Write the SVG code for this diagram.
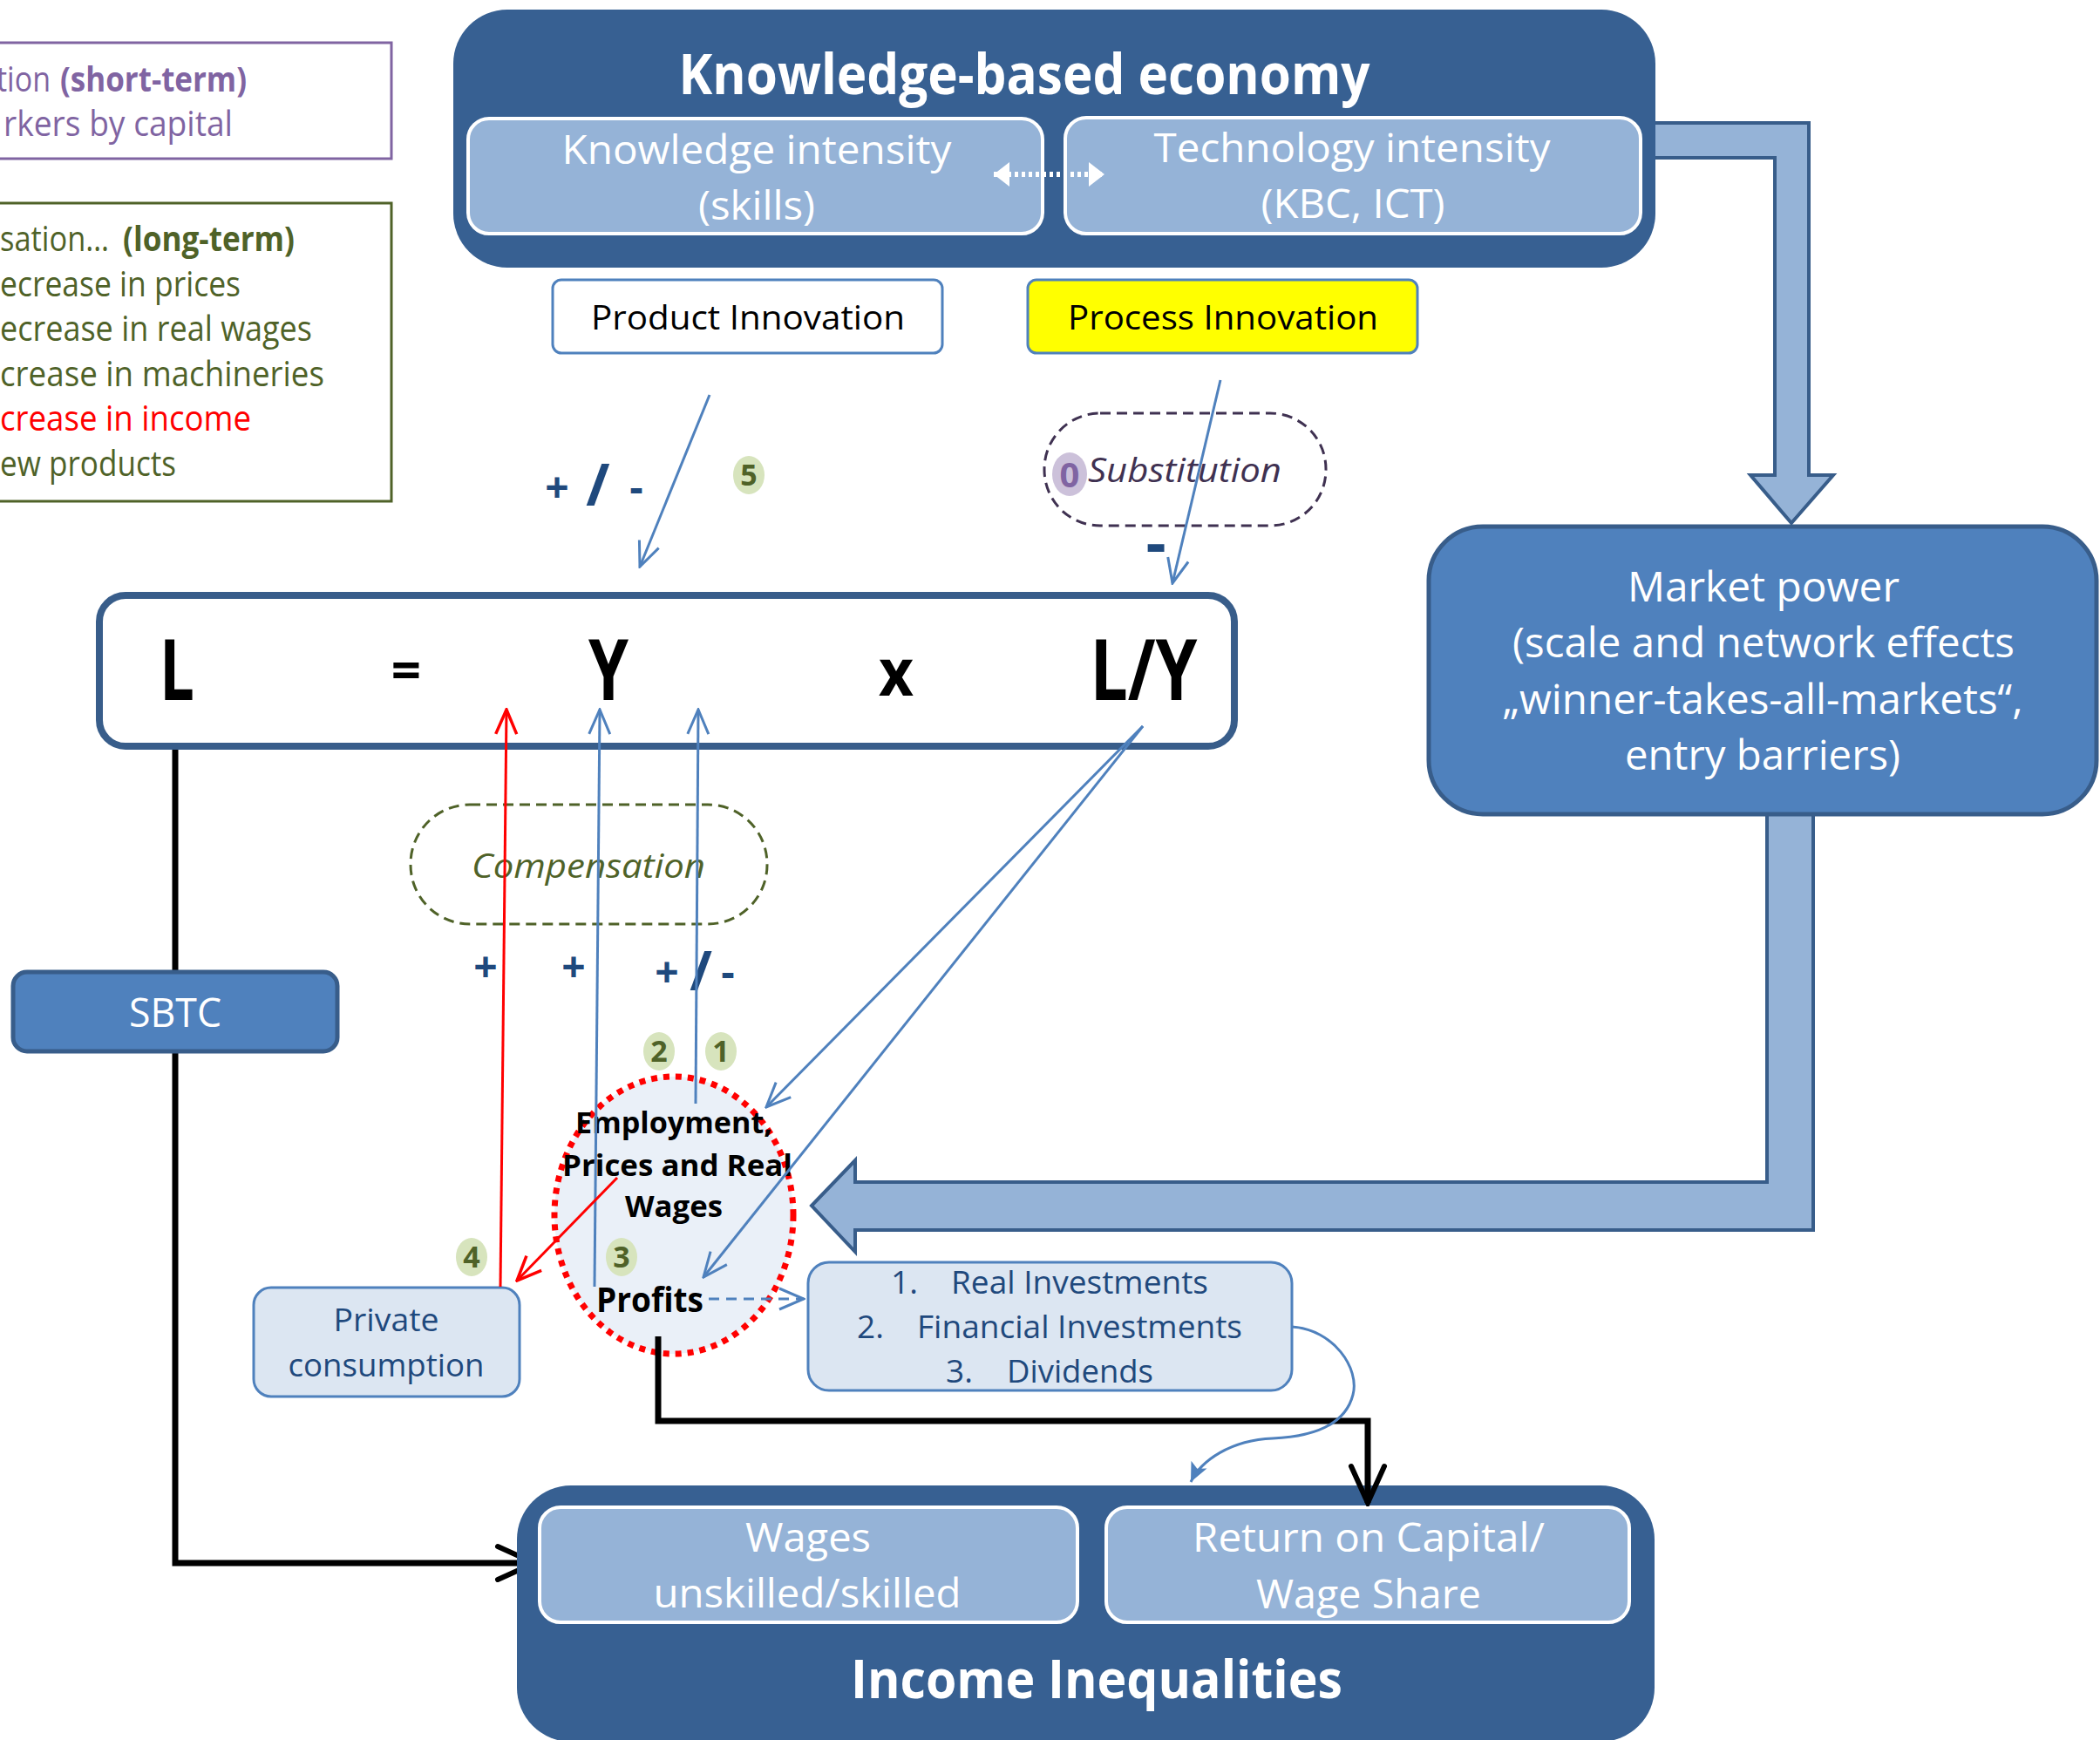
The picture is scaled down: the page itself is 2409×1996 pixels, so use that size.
<svg xmlns="http://www.w3.org/2000/svg" width="2409" height="1996" viewBox="0 0 2409 1996">
<style>
text{font-family:"Open Sans","Noto Sans","Liberation Sans",sans-serif;}
.w{fill:#fff}
.bd{font-weight:bold}
.it{font-style:italic}
.dk{fill:#1F497D}
.mid{text-anchor:middle}
.sign{fill:#1F497D;font-weight:bold;font-size:48px;text-anchor:middle}
.badge{fill:#D7E4BD}
.bt{fill:#4F6228;font-weight:bold;font-size:34px;text-anchor:middle}
.bl{stroke:#4F81BD;stroke-width:3;fill:none}
.rd{stroke:#FF0000;stroke-width:3;fill:none}
.blk{stroke:#000;stroke-width:7;fill:none;stroke-linejoin:miter}
.sub{fill:#95B3D7;stroke:#fff;stroke-width:4}
.lite{fill:#DCE6F2;stroke:#4F81BD;stroke-width:3}
.blockarrow{fill:#95B3D7;stroke:#385D8A;stroke-width:4;stroke-linejoin:miter}
.pu{fill:#8064A2;font-size:40px}
.gr{fill:#4F6228;font-size:40px}
</style>
<defs>
<marker id="ab" viewBox="0 0 32 28" refX="30" refY="14" markerWidth="32" markerHeight="28" markerUnits="userSpaceOnUse" orient="auto"><path d="M2,2 L30,14 L2,26" fill="none" stroke="#4F81BD" stroke-width="3"/></marker>
<marker id="ar" viewBox="0 0 32 28" refX="30" refY="14" markerWidth="32" markerHeight="28" markerUnits="userSpaceOnUse" orient="auto"><path d="M2,2 L30,14 L2,26" fill="none" stroke="#FF0000" stroke-width="3.5"/></marker>
<marker id="ak" viewBox="0 0 50 46" refX="46" refY="23" markerWidth="50" markerHeight="46" markerUnits="userSpaceOnUse" orient="auto"><path d="M4,4 L46,23 L4,42" fill="none" stroke="#000" stroke-width="6" stroke-linecap="round"/></marker>
<marker id="af" viewBox="0 0 24 20" refX="22" refY="10" markerWidth="24" markerHeight="20" markerUnits="userSpaceOnUse" orient="auto"><path d="M0,0 L22,10 L0,20 L5,10 Z" fill="#4F81BD"/></marker>
<marker id="aw" viewBox="0 0 20 28" refX="18" refY="14" markerWidth="20" markerHeight="28" markerUnits="userSpaceOnUse" orient="auto-start-reverse"><path d="M0,0 L18,14 L0,28 Z" fill="#fff"/></marker>
</defs>

<!-- legend boxes (cut at left edge) -->
<g id="legend-short">
<rect x="-20" y="49" width="469" height="133" fill="#fff" stroke="#8064A2" stroke-width="3"/>
<text class="pu" x="-4" y="105" textLength="62" lengthAdjust="spacingAndGlyphs">tion</text>
<text class="pu bd" x="69" y="105" textLength="214" lengthAdjust="spacingAndGlyphs">(short-term)</text>
<text class="pu" x="4" y="156" textLength="263" lengthAdjust="spacingAndGlyphs">rkers by capital</text>
</g>
<g id="legend-long">
<rect x="-20" y="233" width="469" height="342" fill="#fff" stroke="#4F6228" stroke-width="3"/>
<text class="gr" x="0" y="288" textLength="125" lengthAdjust="spacingAndGlyphs">sation…</text>
<text class="gr bd" x="141" y="288" textLength="197" lengthAdjust="spacingAndGlyphs">(long-term)</text>
<text class="gr" x="0" y="340" textLength="276" lengthAdjust="spacingAndGlyphs">ecrease in prices</text>
<text class="gr" x="0" y="391" textLength="358" lengthAdjust="spacingAndGlyphs">ecrease in real wages</text>
<text class="gr" x="0" y="443" textLength="372" lengthAdjust="spacingAndGlyphs">crease in machineries</text>
<text class="gr" x="0" y="494" style="fill:#FF0000" textLength="288" lengthAdjust="spacingAndGlyphs">crease in income</text>
<text class="gr" x="0" y="546" textLength="202" lengthAdjust="spacingAndGlyphs">ew products</text>
</g>

<!-- connectors drawn behind nodes -->
<g id="connectors-back">
<path class="blockarrow" d="M1880,141 L2075,141 L2075,545 L2103,545 L2055,600 L2008,545 L2036,545 L2036,181 L1880,181 Z"/>
<path class="blockarrow" d="M2027,920 L2080,920 L2080,1411 L981,1411 L981,1436 L931,1383 L981,1331 L981,1356 L2027,1356 Z"/>
<polyline class="blk" points="201,856 201,1793 613,1793" marker-end="url(#ak)"/>
</g>

<g id="kb">
<rect x="520" y="11" width="1379" height="296" rx="62" fill="#376092"/>
<text class="w bd mid" x="1175" y="108" font-size="64" textLength="793" lengthAdjust="spacingAndGlyphs">Knowledge-based economy</text>
<rect class="sub" x="537" y="136" width="659" height="132" rx="24"/>
<rect class="sub" x="1222" y="135" width="660" height="133" rx="24"/>
<text class="w mid" x="868" y="188" font-size="46" textLength="447" lengthAdjust="spacingAndGlyphs">Knowledge intensity</text>
<text class="w mid" x="868" y="252" font-size="46" textLength="134" lengthAdjust="spacingAndGlyphs">(skills)</text>
<text class="w mid" x="1551" y="186" font-size="46" textLength="455" lengthAdjust="spacingAndGlyphs">Technology intensity</text>
<text class="w mid" x="1552" y="250" font-size="46" textLength="211" lengthAdjust="spacingAndGlyphs">(KBC, ICT)</text>
<line x1="1140" y1="200" x2="1267" y2="200" stroke="#fff" stroke-width="6" stroke-dasharray="4 4" marker-start="url(#aw)" marker-end="url(#aw)"/>
</g>

<g id="product">
<rect x="634" y="321" width="447" height="84" rx="10" fill="#fff" stroke="#4F81BD" stroke-width="3"/>
<text class="mid" x="858" y="378" font-size="38" fill="#000" textLength="360" lengthAdjust="spacingAndGlyphs">Product Innovation</text>
</g>
<g id="process">
<rect x="1179" y="321" width="447" height="84" rx="10" fill="#FFFF00" stroke="#4F81BD" stroke-width="3"/>
<text class="mid" x="1403" y="378" font-size="38" fill="#000" textLength="356" lengthAdjust="spacingAndGlyphs">Process Innovation</text>
</g>

<g id="substitution">
<rect x="1198" y="474" width="323" height="129" rx="64" fill="#fff" stroke="#3F3151" stroke-width="3" stroke-dasharray="12 7"/>
<ellipse cx="1227" cy="544" rx="20" ry="25" fill="#CCC1DA"/>
<text x="1227" y="559" font-size="40" class="bd mid" fill="#8064A2">0</text>
<text class="it" x="1248" y="553" font-size="38" fill="#3F3151" textLength="222" lengthAdjust="spacingAndGlyphs">Substitution</text>
</g>

<g id="market">
<rect x="1639" y="604" width="766" height="330" rx="62" fill="#4F81BD" stroke="#385D8A" stroke-width="5"/>
<text class="w mid" x="2023" y="690" font-size="47" textLength="312" lengthAdjust="spacingAndGlyphs">Market power</text>
<text class="w mid" x="2023" y="754" font-size="47" textLength="576" lengthAdjust="spacingAndGlyphs">(scale and network effects</text>
<text class="w mid" x="2022" y="819" font-size="47" textLength="597" lengthAdjust="spacingAndGlyphs">„winner-takes-all-markets“,</text>
<text class="w mid" x="2022" y="883" font-size="47" textLength="316" lengthAdjust="spacingAndGlyphs">entry barriers)</text>
</g>

<g id="equation">
<rect x="114" y="683" width="1302" height="173" rx="30" fill="#fff" stroke="#385D8A" stroke-width="8"/>
<text class="bd mid" x="203" y="803" font-size="96" textLength="40" lengthAdjust="spacingAndGlyphs">L</text>
<text class="bd mid" x="466" y="790" font-size="60">=</text>
<text class="bd mid" x="698" y="803" font-size="96" textLength="46" lengthAdjust="spacingAndGlyphs">Y</text>
<text class="bd mid" x="1028" y="798" font-size="76" textLength="40" lengthAdjust="spacingAndGlyphs">x</text>
<text class="bd mid" x="1312" y="803" font-size="96" textLength="123" lengthAdjust="spacingAndGlyphs">L/Y</text>
</g>

<g id="compensation">
<rect x="471" y="923" width="409" height="137" rx="68" fill="#fff" stroke="#4F6228" stroke-width="3" stroke-dasharray="12 7"/>
<text class="it" x="541" y="1007" font-size="38" fill="#4F6228" textLength="268" lengthAdjust="spacingAndGlyphs">Compensation</text>
</g>

<g id="sbtc">
<rect x="15" y="1115" width="372" height="91" rx="16" fill="#4F81BD" stroke="#385D8A" stroke-width="5"/>
<text class="w mid" x="201" y="1178" font-size="45" textLength="106" lengthAdjust="spacingAndGlyphs">SBTC</text>
</g>

<g id="private">
<rect class="lite" x="291" y="1477" width="305" height="125" rx="20"/>
<text class="dk mid" x="443" y="1527" font-size="36" textLength="121" lengthAdjust="spacingAndGlyphs">Private</text>
<text class="dk mid" x="443" y="1579" font-size="36" textLength="225" lengthAdjust="spacingAndGlyphs">consumption</text>
</g>

<g id="employment">
<ellipse cx="773" cy="1394" rx="137" ry="159" fill="#EAF0F8" stroke="#FF0000" stroke-width="7" stroke-dasharray="7 7"/>
<text class="bd mid" x="773" y="1300" font-size="34" textLength="226" lengthAdjust="spacingAndGlyphs">Employment,</text>
<text class="bd mid" x="777" y="1349" font-size="34" textLength="264" lengthAdjust="spacingAndGlyphs">Prices and Real</text>
<text class="bd mid" x="773" y="1396" font-size="34" textLength="112" lengthAdjust="spacingAndGlyphs">Wages</text>
<text class="bd" x="684" y="1505" font-size="39" textLength="123" lengthAdjust="spacingAndGlyphs">Profits</text>
</g>

<g id="investments">
<rect class="lite" x="927" y="1448" width="555" height="147" rx="24"/>
<text class="dk" x="1022" y="1484" font-size="37">1.</text>
<text class="dk" x="1091" y="1484" font-size="37" textLength="295" lengthAdjust="spacingAndGlyphs">Real Investments</text>
<text class="dk" x="983" y="1535" font-size="37">2.</text>
<text class="dk" x="1052" y="1535" font-size="37" textLength="373" lengthAdjust="spacingAndGlyphs">Financial Investments</text>
<text class="dk" x="1085" y="1586" font-size="37">3.</text>
<text class="dk" x="1155" y="1586" font-size="37" textLength="168" lengthAdjust="spacingAndGlyphs">Dividends</text>
</g>

<g id="income">
<rect x="593" y="1704" width="1305" height="294" rx="62" fill="#376092"/>
<rect class="sub" x="619" y="1729" width="617" height="132" rx="24"/>
<rect class="sub" x="1269" y="1729" width="600" height="132" rx="24"/>
<text class="w mid" x="927" y="1780" font-size="46" textLength="144" lengthAdjust="spacingAndGlyphs">Wages</text>
<text class="w mid" x="926" y="1844" font-size="46" textLength="353" lengthAdjust="spacingAndGlyphs">unskilled/skilled</text>
<text class="w mid" x="1570" y="1780" font-size="46" textLength="404" lengthAdjust="spacingAndGlyphs">Return on Capital/</text>
<text class="w mid" x="1570" y="1845" font-size="46" textLength="258" lengthAdjust="spacingAndGlyphs">Wage Share</text>
<text class="w bd mid" x="1258" y="1948" font-size="60" textLength="564" lengthAdjust="spacingAndGlyphs">Income Inequalities</text>
</g>

<g id="labels">
<text class="sign" x="639" y="576">+</text>
<text class="sign" x="686" y="580" style="font-size:66px">/</text>
<text class="sign" x="730" y="576">-</text>
<text class="sign" x="1326" y="648" style="font-size:72px">-</text>
<text class="sign" x="557" y="1126">+</text>
<text class="sign" x="658" y="1126">+</text>
<text class="sign" x="765" y="1132">+</text>
<text class="sign" x="804" y="1136" style="font-size:62px">/</text>
<text class="sign" x="835" y="1132">-</text>
<g id="badge5"><ellipse class="badge" cx="859" cy="545" rx="18" ry="22"/><text class="bt" x="859" y="557">5</text></g>
<g id="badge2"><ellipse class="badge" cx="756" cy="1206" rx="18" ry="22"/><text class="bt" x="756" y="1218">2</text></g>
<g id="badge1"><ellipse class="badge" cx="827" cy="1206" rx="18" ry="22"/><text class="bt" x="827" y="1218">1</text></g>
<g id="badge3"><ellipse class="badge" cx="713" cy="1442" rx="18" ry="22"/><text class="bt" x="713" y="1454">3</text></g>
<g id="badge4"><ellipse class="badge" cx="541" cy="1442" rx="18" ry="22"/><text class="bt" x="541" y="1454">4</text></g>
</g>

<g id="connectors">
<line class="bl" x1="814" y1="453" x2="734" y2="650" marker-end="url(#ab)"/>
<line class="bl" x1="1400" y1="436" x2="1345" y2="669" marker-end="url(#ab)"/>
<line class="rd" x1="574" y1="1476" x2="581" y2="814" marker-end="url(#ar)"/>
<line class="bl" x1="682" y1="1476" x2="688" y2="814" marker-end="url(#ab)"/>
<line class="bl" x1="798" y1="1266" x2="801" y2="814" marker-end="url(#ab)"/>
<line class="bl" x1="1311" y1="833" x2="879" y2="1270" marker-end="url(#ab)"/>
<line class="bl" x1="1311" y1="833" x2="807" y2="1465" marker-end="url(#ab)"/>
<line class="rd" x1="708" y1="1351" x2="593" y2="1469" marker-end="url(#ar)"/>
<line class="bl" x1="813" y1="1490" x2="922" y2="1490" stroke-dasharray="12 8" marker-end="url(#ab)"/>
<polyline class="blk" points="755,1533 755,1630 1569,1630 1569,1724" marker-end="url(#ak)"/>
<path class="bl" d="M1482,1522 C1530,1525 1560,1570 1552,1600 C1543,1635 1505,1648 1460,1650 C1412,1652 1378,1675 1366,1700" marker-end="url(#af)"/>
</g>
</svg>
